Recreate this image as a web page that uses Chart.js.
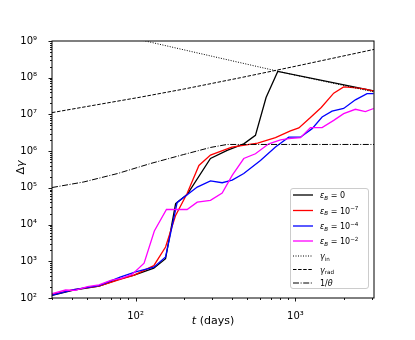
<!DOCTYPE html>
<html>
<head>
<meta charset="utf-8">
<script src="https://cdn.jsdelivr.net/npm/chart.js@4.4.1/dist/chart.umd.min.js"></script>
<style>
  body { margin: 0; background: #fff; }
</style>
</head>
<body>
<canvas id="chart" width="415" height="340"></canvas>
<script>
const FONT = "'DejaVu Sans', sans-serif";

// t (days) and Δγ, one pair of arrays per curve
const tBlack = [30, 41, 59, 80, 98, 130, 154, 178, 210, 294, 374, 475, 562, 655, 775, 3084];
const gBlack = [118, 165, 210, 330, 420, 650, 1175, 37000, 66000, 6.3e5, 1.05e6, 1.58e6, 2.7e6, 2.9e7, 1.48e8, 4.4e7];

const tRed = [30, 41, 59, 80, 98, 130, 154, 178, 210, 249, 294, 400, 580, 750, 930, 1050, 1241, 1450, 1735, 2003, 2312, 2673, 3084];
const gRed = [125, 168, 212, 320, 420, 760, 2450, 17800, 70000, 4.07e5, 7.8e5, 1.29e6, 1.66e6, 2.34e6, 3.55e6, 4.3e6, 8.2e6, 1.55e7, 3.8e7, 5.6e7, 5.4e7, 5.0e7, 4.3e7];

const tBlue = [30, 41, 59, 80, 100, 130, 154, 182, 243, 294, 348, 402, 475, 604, 750, 908, 1075, 1271, 1468, 1694, 2003, 2371, 2805, 3084];
const gBlue = [120, 170, 218, 372, 513, 692, 1318, 40000, 1.05e5, 1.55e5, 1.38e5, 1.62e5, 2.45e5, 5.6e5, 1.3e6, 2.4e6, 2.4e6, 4.1e6, 8.5e6, 1.23e7, 1.45e7, 2.5e7, 3.7e7, 3.7e7];

const tMag = [30, 36.5, 42, 50, 59, 70, 81, 95, 113, 131, 156, 182, 210, 243, 294, 348, 402, 475, 562, 681, 806, 908, 1075, 1241, 1468, 1735, 2003, 2371, 2738, 3084];
const gMag = [132, 165, 162, 205, 229, 300, 340, 440, 890, 6700, 25700, 25700, 25700, 40700, 45700, 72400, 2.19e5, 6.3e5, 8.5e5, 1.58e6, 2.04e6, 2.19e6, 2.34e6, 4.37e6, 4.37e6, 6.9e6, 1.05e7, 1.38e7, 1.2e7, 1.45e7];

const tIn = [100, 300, 1000, 3100];
const gIn = [1.15e9, 3.85e8, 1.17e8, 4.1e7];

const tRad = [30, 60, 107, 200, 453, 1000, 3100];
const gRad = [1.12e7, 1.9e7, 2.95e7, 4.9e7, 1.0e8, 2.05e8, 5.9e8];

const tTheta = [30, 47.5, 77, 124, 200, 294, 374, 3100];
const gTheta = [1.02e5, 1.45e5, 2.45e5, 4.6e5, 8.1e5, 1.26e6, 1.52e6, 1.52e6];

const seriesLabels = ['{i:ε}{_i:B} = 0', '{i:ε}{_i:B} = 10{^:−7}', '{i:ε}{_i:B} = 10{^:−4}', '{i:ε}{_i:B} = 10{^:−2}'];
const refLabels = ['{i:γ}{_:in}', '{i:γ}{_:rad}', '1/{i:θ}'];

const xTickVals = [100, 1000];
const xTickLabels = ['10²', '10³'];
const yTickVals = [1e2, 1e3, 1e4, 1e5, 1e6, 1e7, 1e8, 1e9];
const yTickLabels = ['10²', '10³', '10⁴', '10⁵', '10⁶', '10⁷', '10⁸', '10⁹'];

function pts(t, g) {
  return t.map((v, i) => ({ x: v, y: g[i] }));
}

// all 1..9 x 10^n positions, for the minor tick marks
function logTicks(min, max) {
  const out = [];
  for (let e = Math.floor(Math.log10(min)); e <= Math.ceil(Math.log10(max)); e++) {
    for (let m = 1; m <= 9; m++) {
      const v = m * Math.pow(10, e);
      if (v >= min * 0.999 && v <= max * 1.001) out.push({ value: v, major: m === 1 });
    }
  }
  return out;
}

// tiny mathtext: {i:x} italic, {_:x} sub, {_i:x} italic sub, {^:x} sup
function parseRich(str) {
  const out = [];
  const re = /\{(i|_i|_|\^):([^}]*)\}/g;
  let last = 0, m;
  while ((m = re.exec(str))) {
    if (m.index > last) out.push({ text: str.slice(last, m.index), kind: 'n' });
    out.push({ text: m[2], kind: m[1] });
    last = re.lastIndex;
  }
  if (last < str.length) out.push({ text: str.slice(last), kind: 'n' });
  return out;
}

function drawRich(ctx, str, x, y, size, align) {
  const segs = parseRich(str).map(s => {
    const small = s.kind[0] === '_' || s.kind === '^';
    const sz = small ? size * 0.7 : size;
    const italic = s.kind === 'i' || s.kind === '_i';
    const dy = s.kind === '^' ? -size * 0.42 : (s.kind[0] === '_' ? size * 0.22 : 0);
    const font = (italic ? 'italic ' : '') + sz + 'px ' + FONT;
    ctx.font = font;
    return { text: s.text, font, dy, w: ctx.measureText(s.text).width };
  });
  const total = segs.reduce((a, s) => a + s.w, 0);
  let cx = align === 'center' ? x - total / 2 : align === 'right' ? x - total : x;
  ctx.textAlign = 'left';
  ctx.textBaseline = 'alphabetic';
  segs.forEach(s => {
    ctx.font = s.font;
    ctx.fillText(s.text, cx, y + s.dy);
    cx += s.w;
  });
}

const decor = {
  id: 'decor',
  beforeDraw(chart) {
    const ctx = chart.ctx;
    ctx.save();
    ctx.fillStyle = '#fff';
    ctx.fillRect(0, 0, chart.width, chart.height);
    ctx.restore();
  },
  afterDraw(chart) {
    const { ctx, chartArea: a, scales } = chart;
    ctx.save();
    ctx.strokeStyle = '#000';
    ctx.lineWidth = 0.9;
    scales.x.ticks.forEach(t => {
      const px = Math.round(scales.x.getPixelForValue(t.value)) + 0.5;
      const len = t.major ? 3.5 : 2;
      ctx.beginPath();
      ctx.moveTo(px, a.bottom);
      ctx.lineTo(px, a.bottom + len);
      ctx.stroke();
    });
    scales.y.ticks.forEach(t => {
      const py = Math.round(scales.y.getPixelForValue(t.value)) + 0.5;
      const len = t.major ? 3.5 : 2;
      ctx.beginPath();
      ctx.moveTo(a.left, py);
      ctx.lineTo(a.left - len, py);
      ctx.stroke();
    });
    ctx.lineWidth = 1;
    ctx.strokeRect(a.left, a.top, a.right - a.left, a.bottom - a.top);

    // axis titles
    ctx.fillStyle = '#000';
    drawRich(ctx, '{i:t} (days)', (a.left + a.right) / 2, 324, 11, 'center');
    ctx.save();
    ctx.translate(24, (a.top + a.bottom) / 2 - 2);
    ctx.rotate(-Math.PI / 2);
    drawRich(ctx, 'Δ{i:γ}', 0, 0, 11, 'center');
    ctx.restore();

    // legend, lower right
    const bx = 290, by = 188, bw = 78, bh = 100;
    ctx.fillStyle = 'rgba(255,255,255,0.8)';
    ctx.strokeStyle = '#cccccc';
    ctx.lineWidth = 1;
    ctx.beginPath();
    ctx.roundRect(bx + 0.5, by + 0.5, bw, bh, 2.5);
    ctx.fill();
    ctx.stroke();
    const rows = [195, 210.5, 226, 241, 256, 269.5, 283];
    chart.data.datasets.forEach((ds, i) => {
      const y = rows[i];
      ctx.strokeStyle = ds.borderColor;
      ctx.lineWidth = ds.borderWidth;
      ctx.setLineDash(ds.borderDash || []);
      ctx.beginPath();
      ctx.moveTo(293, y);
      ctx.lineTo(313, y);
      ctx.stroke();
      ctx.setLineDash([]);
      ctx.fillStyle = '#000';
      drawRich(ctx, ds.label, 320, y + 3, 8, 'left');
    });
    ctx.restore();
  }
};

const lineStyle = (label, color, width, dash, order) => ({
  label,
  borderColor: color,
  backgroundColor: color,
  borderWidth: width,
  borderDash: dash,
  pointRadius: 0,
  tension: 0,
  fill: false,
  order
});

new Chart(document.getElementById('chart'), {
  type: 'line',
  data: {
    datasets: [
      { ...lineStyle(seriesLabels[0], '#000000', 1.3, [], 0), data: pts(tBlack, gBlack) },
      { ...lineStyle(seriesLabels[1], '#ff0000', 1.3, [], -1), data: pts(tRed, gRed) },
      { ...lineStyle(seriesLabels[2], '#0000ff', 1.3, [], -2), data: pts(tBlue, gBlue) },
      { ...lineStyle(seriesLabels[3], '#ff00ff', 1.3, [], -3), data: pts(tMag, gMag) },
      { ...lineStyle(refLabels[0], '#000000', 1, [1, 1.5], -4), data: pts(tIn, gIn) },
      { ...lineStyle(refLabels[1], '#000000', 1, [3.5, 1.6], -5), data: pts(tRad, gRad) },
      { ...lineStyle(refLabels[2], '#000000', 1, [6, 1.6, 1, 1.6], -6), data: pts(tTheta, gTheta) }
    ]
  },
  options: {
    responsive: false,
    animation: false,
    layout: { padding: { left: 0, top: 41, right: 41, bottom: 0 } },
    plugins: { legend: { display: false }, tooltip: { enabled: false } },
    scales: {
      x: {
        type: 'logarithmic',
        min: 30,
        max: 3100,
        afterBuildTicks: s => { s.ticks = logTicks(30, 3100); },
        afterFit: s => { s.height = 42; },
        grid: { display: false },
        border: { display: false },
        ticks: {
          autoSkip: false,
          maxRotation: 0,
          padding: 4,
          color: '#000',
          font: { family: FONT, size: 10 },
          callback: v => {
            const k = xTickVals.indexOf(v);
            return k >= 0 ? xTickLabels[k] : '';
          }
        }
      },
      y: {
        type: 'logarithmic',
        min: 1e2,
        max: 1e9,
        afterBuildTicks: s => { s.ticks = logTicks(1e2, 1e9); },
        afterFit: s => { s.width = 52; },
        grid: { display: false },
        border: { display: false },
        ticks: {
          autoSkip: false,
          padding: 7,
          color: '#000',
          font: { family: FONT, size: 10 },
          callback: v => {
            const k = yTickVals.indexOf(v);
            return k >= 0 ? yTickLabels[k] : '';
          }
        }
      }
    }
  },
  plugins: [decor]
});
</script>
</body>
</html>
